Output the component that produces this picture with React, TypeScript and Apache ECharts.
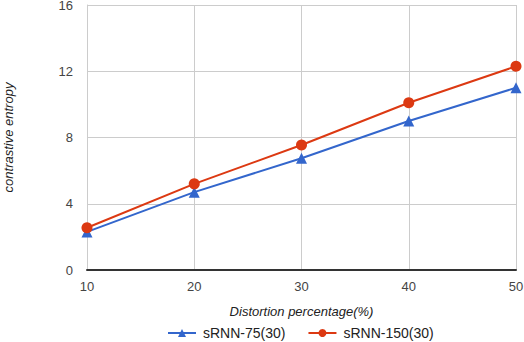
import React, { useEffect, useRef } from "react";
import * as echarts from "echarts";

const xValues = [10, 20, 30, 40, 50];
const srnn75 = [2.3, 4.7, 6.75, 9.0, 11.0];
const srnn150 = [2.55, 5.2, 7.55, 10.1, 12.3];
const seriesNames = ["sRNN-75(30)", "sRNN-150(30)"];

export default function App() {
  const ref = useRef<HTMLDivElement>(null);
  useEffect(() => {
    const chart = echarts.init(ref.current!, null, { renderer: "svg" });
    const font = "Liberation Sans, Arial, sans-serif";
    chart.setOption({
      animation: false,
      backgroundColor: "#fff",
      grid: { left: 87, right: 8, top: 5, bottom: 72, containLabel: false, outerBoundsMode: "none" },
      legend: {
        top: 321,
        left: 162,
        itemWidth: 28,
        itemHeight: 10,
        itemGap: 22,
        textStyle: { fontFamily: font, fontSize: 14, color: "#222", padding: [0, 0, 0, 2] },
        data: seriesNames,
      },
      xAxis: {
        type: "value",
        min: 10,
        max: 50,
        interval: 10,
        name: "Distortion percentage(%)",
        nameLocation: "middle",
        nameGap: 35,
        nameTextStyle: { fontFamily: font, fontSize: 13, fontStyle: "italic", color: "#222" },
        axisLine: { show: true, onZero: false, lineStyle: { color: "#333", width: 2 } },
        axisTick: { show: false },
        axisLabel: { fontFamily: font, fontSize: 13, color: "#444", margin: 10 },
        splitLine: { show: true, lineStyle: { color: "#ccc", width: 1 } },
      },
      yAxis: {
        type: "value",
        min: 0,
        max: 16,
        interval: 4,
        name: "contrastive entropy",
        nameLocation: "middle",
        nameGap: 72,
        nameRotate: 90,
        nameTextStyle: { fontFamily: font, fontSize: 13, fontStyle: "italic", color: "#222" },
        axisLine: { show: true, lineStyle: { color: "#ccc", width: 1 } },
        axisTick: { show: false },
        axisLabel: { fontFamily: font, fontSize: 13, color: "#444", margin: 14 },
        splitLine: { show: true, lineStyle: { color: "#ccc", width: 1 } },
      },
      series: [
        {
          name: seriesNames[0],
          type: "line",
          data: xValues.map((x, i) => [x, srnn75[i]]),
          symbol: "triangle",
          symbolSize: 11,
          color: "#3366cc",
          lineStyle: { width: 2, color: "#3366cc" },
          itemStyle: { color: "#3366cc" },
        },
        {
          name: seriesNames[1],
          type: "line",
          data: xValues.map((x, i) => [x, srnn150[i]]),
          symbol: "circle",
          symbolSize: 11,
          color: "#dc3912",
          lineStyle: { width: 2, color: "#dc3912" },
          itemStyle: { color: "#dc3912" },
        },
      ],
    });
    return () => chart.dispose();
  }, []);
  return <div ref={ref} style={{ width: 524, height: 342, position: "absolute", left: 0, top: 0 }} />;
}
